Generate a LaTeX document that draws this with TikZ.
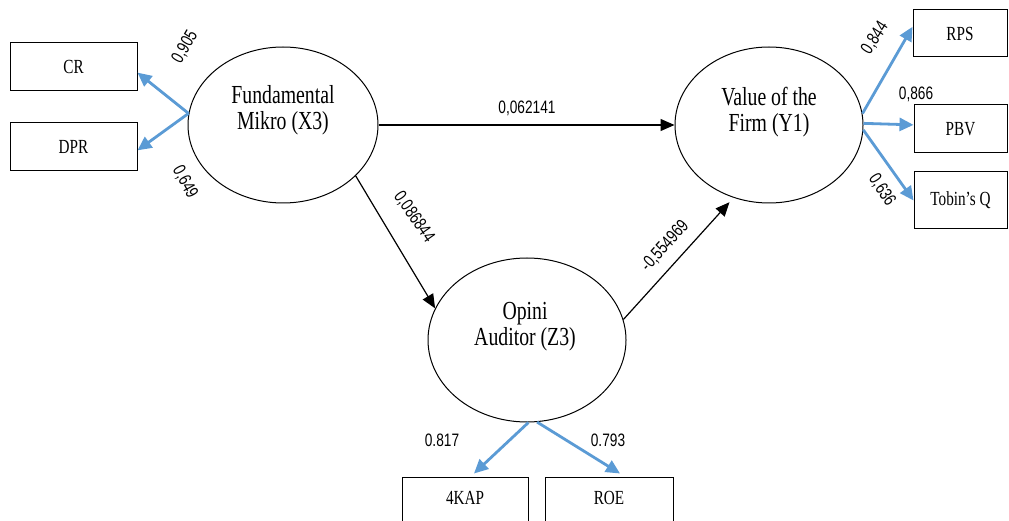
\documentclass[tikz,border=0pt]{standalone}
\usepackage{fontspec}
\setmainfont{Liberation Serif}[FakeStretch=0.76]
\newfontfamily\numfont{Liberation Sans}[FakeStretch=0.76]
\usetikzlibrary{arrows.meta,shapes.geometric,calc}
\definecolor{lblue}{RGB}{91,155,213}
\begin{document}
\begin{tikzpicture}[x=1pt,y=-1pt,
  latent/.style={draw, ellipse, line width=1pt, inner sep=0pt},
  indbox/.style={draw, rectangle, line width=1pt, inner sep=0pt, font=\fontsize{20}{20}\selectfont},
  ltext/.style={font=\fontsize{26}{26}\selectfont, align=center, inner sep=0pt},
  coef/.style={font=\numfont\fontsize{18}{18}\selectfont, inner sep=0pt},
  loadarrow/.style={draw=lblue, line width=2.8pt, -{Triangle[length=14pt,width=13pt]}},
  structarrow/.style={draw=black, line width=1.2pt, -{Triangle[length=14pt,width=12pt]}}]
\clip (0,0) rectangle (1009,521);
\fill[white] (0,0) rectangle (1009,521);

% latent variables
\node[latent, minimum width=190pt, minimum height=156pt] (X3) at (283,125) {};
\node[ltext] (X3t) at (283,110) {Fundamental\\Mikro (X3)};
\node[latent, minimum width=188pt, minimum height=156pt] (Y1) at (769,125) {};
\node[ltext] (Y1t) at (769,112) {Value of the\\Firm (Y1)};
\node[latent, minimum width=198pt, minimum height=164pt] (Z3) at (527,340) {};
\node[ltext] (Z3t) at (525,327) {Opini\\Auditor (Z3)};

% indicators
\node[indbox, minimum width=127pt, minimum height=48pt] (CR) at (73.5,67) {CR};
\node[indbox, minimum width=127pt, minimum height=48pt] (DPR) at (73.5,147) {DPR};
\node[indbox, minimum width=94pt, minimum height=47pt] (RPS) at (960,33.5) {RPS};
\node[indbox, minimum width=93pt, minimum height=48pt] (PBV) at (960.5,129) {PBV};
\node[indbox, minimum width=93pt, minimum height=57pt] (TQ) at (960.5,200.5) {Tobin's Q};
\node[indbox, minimum width=126pt, minimum height=60pt, text depth=0pt] (KAP) at (465,507) {};
\node[font=\fontsize{20}{20}\selectfont, inner sep=0pt] (KAPt) at (465,498) {4KAP};
\node[indbox, minimum width=128pt, minimum height=60pt] (ROE) at (609,507) {};
\node[font=\fontsize{20}{20}\selectfont, inner sep=0pt] (ROEt) at (609,498) {ROE};

% loadings
\draw[loadarrow] (X3.173) -- (CR.-5);
\draw[loadarrow] (X3.173) -- (DPR.-3);
\draw[loadarrow] (Y1.7) -- (RPS.172);
\draw[loadarrow] (Y1.1) -- (PBV.175);
\draw[loadarrow] (Y1.-3) -- (TQ.west);
\draw[loadarrow] (Z3.-89) -- ($(KAP.north)+(9,-3)$);
\draw[loadarrow] (Z3.-83) -- ($(ROE.north)+(11,-3)$);

% structural paths
\draw[structarrow] (X3) -- (Y1);
\draw[structarrow] (X3.-35) -- (Z3.161);
\draw[structarrow, shorten >=6pt] (Z3.12) -- (Y1.244);

% coefficient labels
\node[coef, rotate=60] (l905) at (185,47) {0,905};
\node[coef, rotate=-62] (l649) at (185,182) {0,649};
\node[coef, rotate=57] (l844) at (875,38) {0,844};
\node[coef] (l866) at (916,94) {0,866};
\node[coef, rotate=-57] (l636) at (882,190) {0,636};
\node[coef] (l062) at (527,108) {0,062141};
\node[coef, rotate=-55] (l086) at (414,217) {0,086844};
\node[coef, rotate=48] (l554) at (665,246) {-0,554969};
\node[coef] (l817) at (442,440) {0.817};
\node[coef] (l793) at (608,440) {0.793};
\end{tikzpicture}
\end{document}
